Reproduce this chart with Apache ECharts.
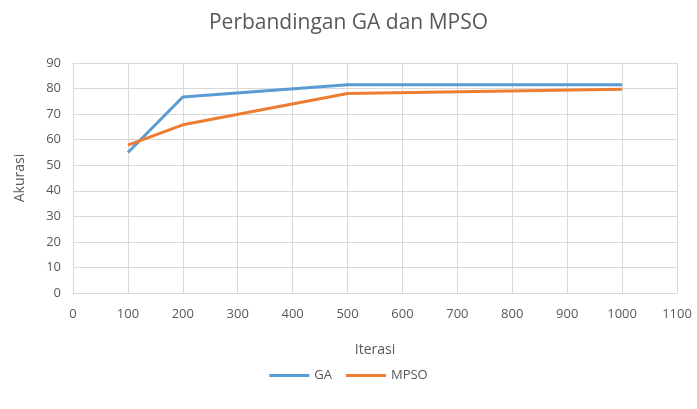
<!DOCTYPE html>
<html><head><meta charset="utf-8">
<script src="https://cdn.jsdelivr.net/npm/echarts@6/dist/echarts.min.js"></script>
<style>html,body{margin:0;padding:0;background:#fff}#c{width:697px;height:409px}</style>
</head><body><div id="c"></div>
<script>
const iterations = [100, 200, 500, 1000];
const gaValues = [55, 76.7, 81.5, 81.5];
const mpsoValues = [57.9, 65.8, 78.1, 79.7];
const seriesNames = ['GA', 'MPSO'];
const title = 'Perbandingan GA dan MPSO';
const xName = 'Iterasi';
const yName = 'Akurasi';

const font = '"Open Sans", "Noto Sans", sans-serif';
const chart = echarts.init(document.getElementById('c'));
const toPairs = vals => iterations.map((x, i) => [x, vals[i]]);
chart.setOption({
  animation: false,
  title: {text: title, left: 'center', top: 8,
    textStyle: {fontFamily: font, fontSize: 21, fontWeight: 'normal', color: '#595959'}},
  grid: {left: 73, right: 20, top: 63, bottom: 116},
  legend: {bottom: 22, left: 'center', itemWidth: 40, itemHeight: 3, itemGap: 14,
    icon: 'rect',
    textStyle: {fontFamily: font, fontSize: 13, color: '#595959'},
    data: seriesNames},
  xAxis: {type: 'value', min: 0, max: 1100, interval: 100,
    name: xName, nameLocation: 'middle', nameGap: 50,
    nameTextStyle: {fontFamily: font, fontSize: 14, color: '#595959'},
    axisLine: {show: true, lineStyle: {color: '#d9d9d9'}},
    axisTick: {show: false},
    axisLabel: {fontFamily: font, fontSize: 13, color: '#595959', margin: 15,
      formatter: v => String(v)},
    splitLine: {show: true, lineStyle: {color: '#d9d9d9'}}},
  yAxis: {type: 'value', min: 0, max: 90, interval: 10,
    name: yName, nameLocation: 'middle', nameGap: 46, nameRotate: 90,
    nameTextStyle: {fontFamily: font, fontSize: 14, color: '#595959'},
    axisLine: {show: true, lineStyle: {color: '#d9d9d9'}},
    axisTick: {show: false},
    axisLabel: {fontFamily: font, fontSize: 13, color: '#595959', margin: 12},
    splitLine: {show: true, lineStyle: {color: '#d9d9d9'}}},
  series: [
    {name: seriesNames[0], type: 'line', data: toPairs(gaValues), showSymbol: false,
      symbol: 'none', lineStyle: {width: 3, color: '#5b9bd5'}, itemStyle: {color: '#5b9bd5'}},
    {name: seriesNames[1], type: 'line', data: toPairs(mpsoValues), showSymbol: false,
      symbol: 'none', lineStyle: {width: 3, color: '#ed7d31'}, itemStyle: {color: '#ed7d31'}}
  ]
});
</script></body></html>
